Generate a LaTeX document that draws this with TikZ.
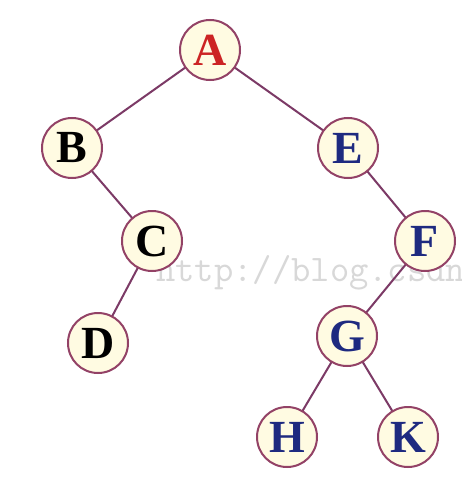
\documentclass[tikz,border=0pt]{standalone}
\usepackage{fontspec}
\setmainfont{Liberation Serif}
\definecolor{edgecol}{HTML}{7C3A66}
\definecolor{ringcol}{HTML}{934266}
\definecolor{nodefill}{HTML}{FFFBE2}
\definecolor{redtxt}{HTML}{CC2424}
\definecolor{bluetxt}{HTML}{1E2A80}
\definecolor{wmgray}{HTML}{D8D8D8}
\begin{document}
\begin{tikzpicture}[x=1pt,y=-1pt,
  tnode/.style={circle,draw=ringcol,fill=nodefill,line width=2pt,minimum size=60pt,inner sep=0pt,
    font=\fontsize{46}{46}\selectfont\bfseries},
  edge/.style={draw=edgecol,line width=2pt}]
\useasboundingbox (0,0) rectangle (462,484);
\fill[white] (0,0) rectangle (462,484);
\begin{scope}
\clip (0,0) rectangle (462,484);
\node[anchor=base west,inner sep=0pt,text=wmgray,font=\ttfamily\fontsize{37.5}{37.5}\selectfont] (wm) at (156,281) {http://blog.csdn};
\end{scope}
\coordinate (pA) at (210,50);
\coordinate (pB) at (72,148);
\coordinate (pE) at (348,148);
\coordinate (pC) at (152,241);
\coordinate (pF) at (425,241);
\coordinate (pD) at (98,343);
\coordinate (pG) at (347,336);
\coordinate (pH) at (287,437);
\coordinate (pK) at (408,437);
\draw[edge] (pA) -- (pB);
\draw[edge] (pA) -- (pE);
\draw[edge] (pB) -- (pC);
\draw[edge] (pC) -- (pD);
\draw[edge] (pE) -- (pF);
\draw[edge] (pF) -- (pG);
\draw[edge] (pG) -- (pH);
\draw[edge] (pG) -- (pK);
\node[tnode,text=redtxt] (A) at (pA) {A};
\node[tnode,text=black] (B) at (pB) {B};
\node[tnode,text=bluetxt] (E) at (pE) {E};
\node[tnode,text=black] (C) at (pC) {C};
\node[tnode,text=bluetxt] (F) at (pF) {F};
\node[tnode,text=black] (D) at (pD) {D};
\node[tnode,text=bluetxt] (G) at (pG) {G};
\node[tnode,text=bluetxt] (H) at (pH) {H};
\node[tnode,text=bluetxt] (K) at (pK) {K};
\end{tikzpicture}
\end{document}
